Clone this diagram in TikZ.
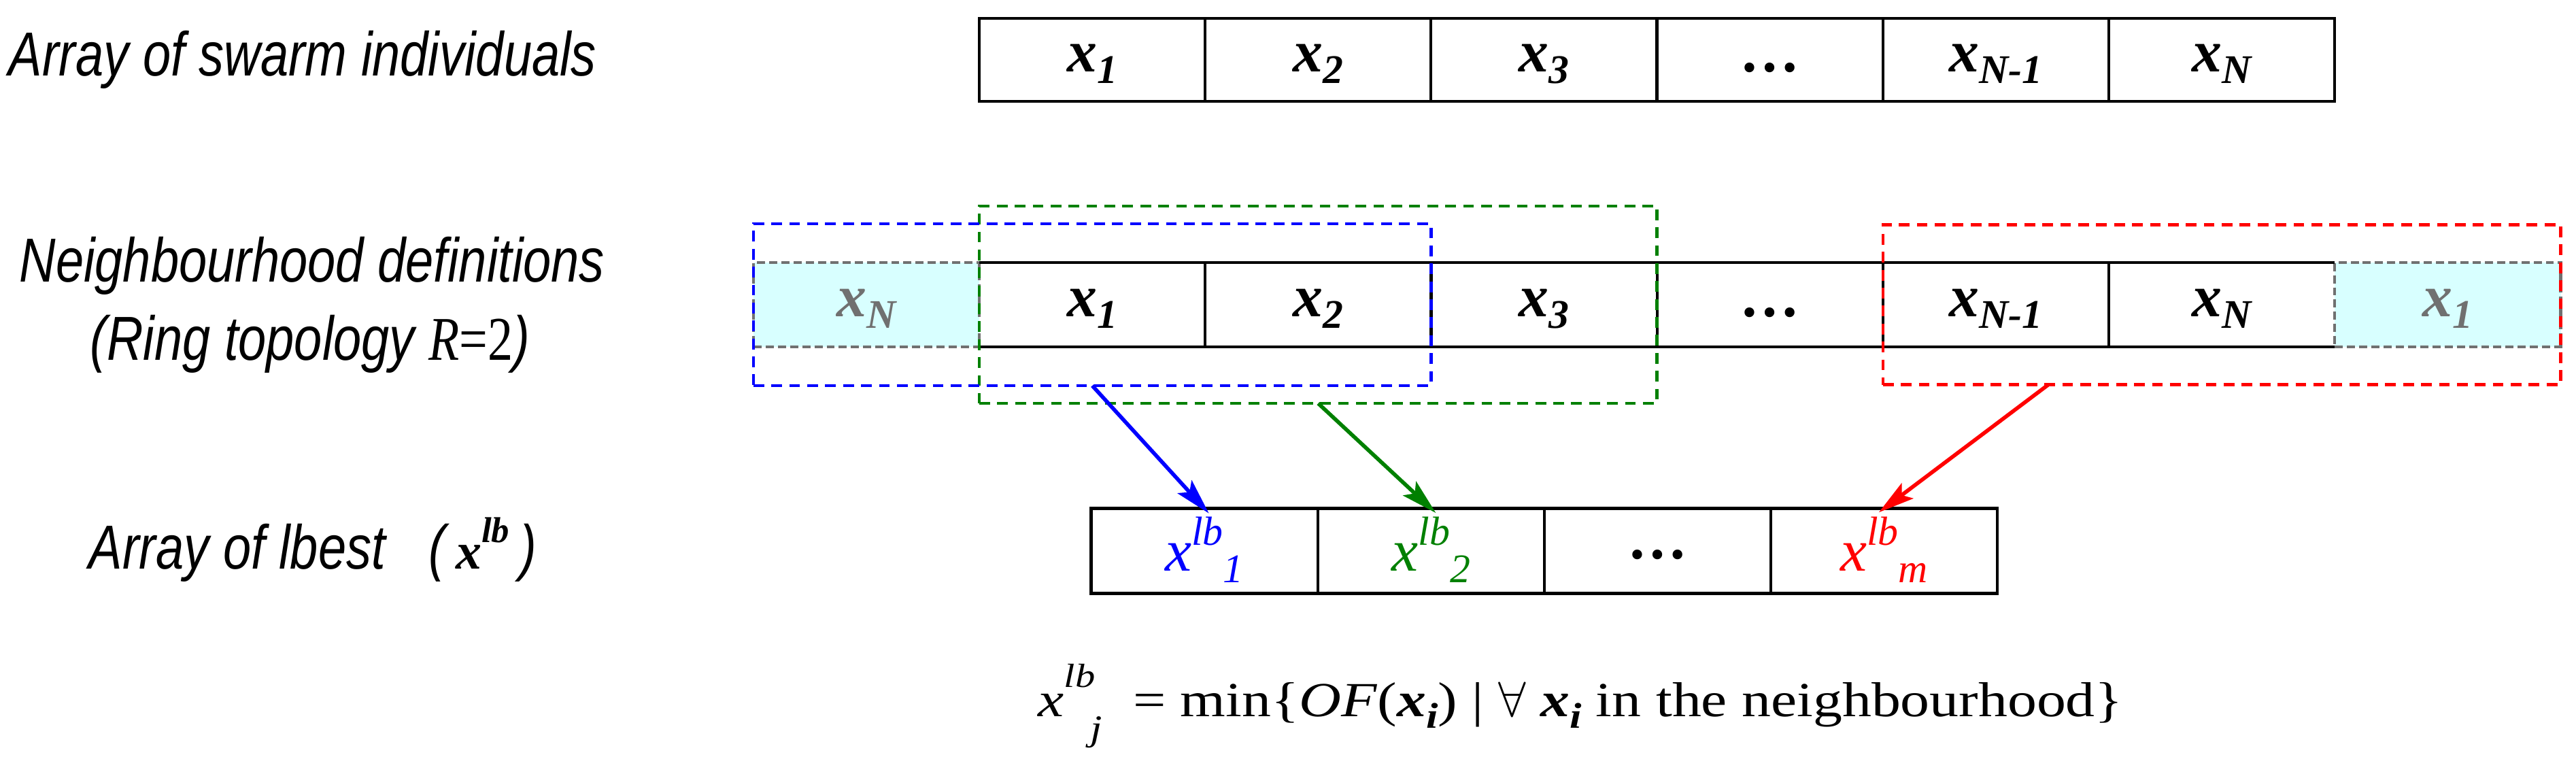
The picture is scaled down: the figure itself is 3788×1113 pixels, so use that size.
\documentclass[tikz,border=0pt]{standalone}
\usepackage{fontspec}
\usepackage{xcolor}
\usepackage{tikz}
\usetikzlibrary{arrows.meta,positioning,fit,calc}

\newfontfamily\lblfont[FakeStretch=0.81]{Liberation Sans}
\newfontfamily\lblserif[FakeStretch=0.81]{Liberation Serif}
\newfontfamily\cellfont{Liberation Serif}
\newfontfamily\eqfont[FakeStretch=1.19]{Liberation Serif}

\definecolor{ghostfill}{RGB}{216,255,255}
\definecolor{ghostgray}{RGB}{112,112,112}
\definecolor{nbgreen}{RGB}{0,128,0}

% particle x_i and lbest x^lb_j as printed in the cells
\newcommand{\xsub}[1]{{\bfseries\itshape x\raisebox{-4.8pt}{\fontsize{17}{17}\selectfont #1}}}
\newcommand{\xlb}[1]{{\itshape x\raisebox{10.8pt}{\fontsize{17}{17}\selectfont lb}\raisebox{-4.8pt}{\fontsize{17}{17}\selectfont #1}}}

\begin{document}
\begin{tikzpicture}[x=0.01cm,y=-0.01cm,>=Stealth,
  cell/.style={draw,line width=1.2pt,minimum width=3.32cm,minimum height=1.22cm,inner sep=0pt,outer sep=0pt,
    font=\cellfont\fontsize{25}{30}\selectfont,text height=15pt,text depth=5.2pt},
  midcell/.style={cell,draw=none,minimum height=1.24cm},
  ghost/.style={midcell,fill=ghostfill,draw=ghostgray,dash pattern=on 3.4pt off 1.7pt,text=ghostgray},
  lbcell/.style={cell,minimum width=3.33cm,minimum height=1.25cm,font=\cellfont\fontsize{25}{30}\selectfont\itshape,text height=20pt,text depth=3pt},
  nbbox/.style={line width=1.3pt,dash pattern=on 4.5pt off 3pt,inner xsep=0pt,outer sep=0pt},
  nbarrow/.style={->,line width=1.6pt,shorten >=-2.8pt,arrows={-Stealth[length=15pt,width=8pt,inset=3pt]}},
  lbl/.style={inner sep=0pt,font=\lblfont\fontsize{26}{31}\selectfont\itshape}]
\useasboundingbox (0,0) rectangle (3788,1113);

% row labels
\node[lbl,anchor=base west] (lswarm) at (12,112) {Array of swarm individuals};
\node[lbl,anchor=base] (lnb) at (459,415) {Neighbourhood definitions};
\node[lbl,anchor=base] (lring) at (456,530) {(Ring topology {\lblserif R\upshape=2})};
\node[lbl,anchor=base west] (llb) at (130,836) {Array of lbest\hspace{18pt}(\,{\cellfont\bfseries\fontsize{21.6}{26}\selectfont x\raisebox{11pt}{\fontsize{15}{15}\selectfont lb}}\,)};

% swarm
\node[cell] (t1) at (1606,88) {\xsub{1}};
\node[cell,right=0pt of t1] (t2) {\xsub{2}};
\node[cell,right=0pt of t2] (t3) {\xsub{3}};
\node[cell,right=0pt of t3] (t4) {\textbf{\ldots}};
\node[cell,right=0pt of t4] (t5) {\xsub{N-1}};
\node[cell,right=0pt of t5] (t6) {\xsub{N}};

% ring with wrapped ends
\node[ghost] (m0) at (1274,448) {\xsub{N}};
\node[midcell,right=0pt of m0] (m1) {\xsub{1}};
\node[midcell,right=0pt of m1] (m2) {\xsub{2}};
\node[midcell,right=0pt of m2] (m3) {\xsub{3}};
\node[midcell,right=0pt of m3] (m4) {\textbf{\ldots}};
\node[midcell,right=0pt of m4] (m5) {\xsub{N-1}};
\node[midcell,right=0pt of m5] (m6) {\xsub{N}};
\node[ghost,right=0pt of m6] (m7) {\xsub{1}};
\draw[line width=1.2pt] (m1.north west) -- (m6.north east) (m1.south west) -- (m6.south east)
  (m1.north east) -- (m1.south east) (m2.north east) -- (m2.south east) (m3.north east) -- (m3.south east)
  (m4.north east) -- (m4.south east) (m5.north east) -- (m5.south east);

\node[nbbox,draw=nbgreen,fit=(m1)(m3),inner ysep=0.83cm] (nbgreen) {};
\node[nbbox,draw=blue,fit=(m0)(m2),inner ysep=0.57cm] (nbblue) {};
\node[nbbox,draw=red,fit=(m5)(m7),inner ysep=0.555cm] (nbred) {};

% lbest
\node[lbcell,text=blue] (b1) at (1771,810) {\xlb{1}};
\node[lbcell,right=0pt of b1,text=nbgreen] (b2) {\xlb{2}};
\node[lbcell,right=0pt of b2,font=\cellfont\fontsize{25}{30}\selectfont,text height=9.8pt] (b3) {\textbf{\ldots}};
\node[lbcell,right=0pt of b3,text=red] (b4) {\xlb{m}};

\draw[nbarrow,blue] (nbblue.south) -- (b1.north);
\draw[nbarrow,nbgreen] (nbgreen.south) -- (b2.north);
\draw[nbarrow,red] ($(nbred.south west)!0.244!(nbred.south east)$) -- (b4.north);

\node[anchor=base west,inner sep=0pt,font=\eqfont\fontsize{20.5}{25}\selectfont] (eq) at (1526,1053)
  {\textit{x}\raisebox{12pt}{\fontsize{14}{16}\selectfont\textit{lb}}\kern-2pt\raisebox{-10pt}{\fontsize{15}{17}\selectfont\textit{j}}\hspace{13pt}=\hspace{6pt}min\{\textit{OF}(\textbf{\textit{x}}\raisebox{-5pt}{\fontsize{15}{17}\selectfont\bfseries\itshape i}) | $\forall$ \textbf{\textit{x}}\raisebox{-5pt}{\fontsize{15}{17}\selectfont\bfseries\itshape i} in the neighbourhood\}};
\end{tikzpicture}
\end{document}
